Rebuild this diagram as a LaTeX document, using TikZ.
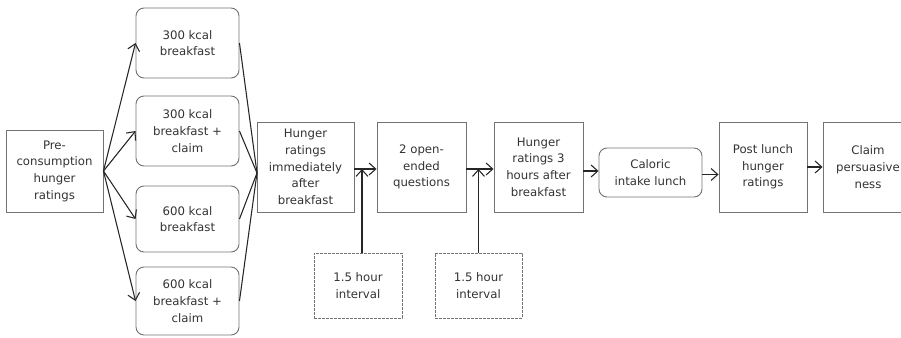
\documentclass[tikz,border=0pt]{standalone}
\usepackage{fontspec}
\setmainfont{DejaVu Sans}
\usetikzlibrary{arrows.meta,positioning,calc}

\begin{document}
\begin{tikzpicture}[x=0.75pt,y=-0.75pt,
  every node/.style={font=\fontsize{8.8}{12.5}\selectfont,text=black!80,align=center,inner sep=0pt},
  box/.style={draw=black!55,line width=0.7pt,minimum height=90*0.75pt},
  rbox/.style={box,rounded corners=8*0.75pt},
  gapbox/.style={draw=black!55,dashed,dash pattern=on 2pt off 1pt,line width=0.5pt,minimum width=88*0.75pt,minimum height=65*0.75pt},
  arr/.style={draw=black!85,line width=0.8pt,-{Straight Barb[length=5pt,width=9pt]}},
  lin/.style={draw=black!85,line width=0.8pt}]
\useasboundingbox (0,0) rectangle (901,337);
\clip (0,0) rectangle (901,337);

% first column
\node[box,minimum width=97*0.75pt,minimum height=82*0.75pt] (pre) at (54.5,171) {Pre-\\consumption\\hunger\\ratings};
\node[rbox,minimum width=103*0.75pt,minimum height=70*0.75pt] (b1) at (187.5,43) {300 kcal\\breakfast};
\node[rbox,minimum width=103*0.75pt,minimum height=70*0.75pt] (b2) at (187.5,131) {300 kcal\\breakfast +\\claim};
\node[rbox,minimum width=103*0.75pt,minimum height=66*0.75pt] (b3) at (187.5,219) {600 kcal\\breakfast};
\node[rbox,minimum width=103*0.75pt,minimum height=68*0.75pt] (b4) at (187.5,301) {600 kcal\\breakfast +\\claim};

% main row
\node[box,minimum width=97*0.75pt] (hi) at (305.5,167) {Hunger\\ratings\\immediately\\after\\breakfast};
\node[box,minimum width=89*0.75pt] (oq) at (421.5,167) {2 open-\\ended\\questions};
\node[box,minimum width=89*0.75pt] (h3) at (538.5,167) {Hunger\\ratings 3\\hours after\\breakfast};
\node[rbox,minimum width=103*0.75pt,minimum height=49*0.75pt] (cl) at (650.5,172.5) {Caloric\\intake lunch};
\node[box,minimum width=88*0.75pt] (pl) at (763,167) {Post lunch\\hunger\\ratings};
\node[box,minimum width=90*0.75pt] (cp) at (868,167) {Claim\\persuasive\\ness};

% intervals
\node[gapbox] (d1) at (358,285.5) {1.5 hour\\interval};
\node[gapbox,minimum width=87*0.75pt] (d2) at (478.5,285.5) {1.5 hour\\interval};

\coordinate (join) at (257,173);
\foreach \b in {b1,b2,b3,b4}{
  \draw[arr] (pre.east) -- (\b.west);
  \draw[lin] (\b.east) -- (join);
}
\draw[arr] ([yshift=-2*0.75pt]hi.east) -- ([yshift=-2*0.75pt]oq.west);
\draw[arr] ([yshift=-2*0.75pt]oq.east) -- ([yshift=-2*0.75pt]h3.west);
\draw[arr] ([yshift=-4*0.75pt]h3.east) -- ([yshift=-4*0.75pt]h3.east -| cl.west);
\draw[arr] ([yshift=-2*0.75pt]cl.east -| cl.east) -- ([yshift=-2*0.75pt]cl.east -| pl.west);
\draw[arr] (pl.east) -- (cp.west);
\draw[arr] ([xshift=4*0.75pt]d1.north) -- ([xshift=4*0.75pt,yshift=-2*0.75pt]d1.north |- hi.east);
\draw[arr] (d2.north) -- ([yshift=-2*0.75pt]d2.north |- oq.east);
\end{tikzpicture}
\end{document}
